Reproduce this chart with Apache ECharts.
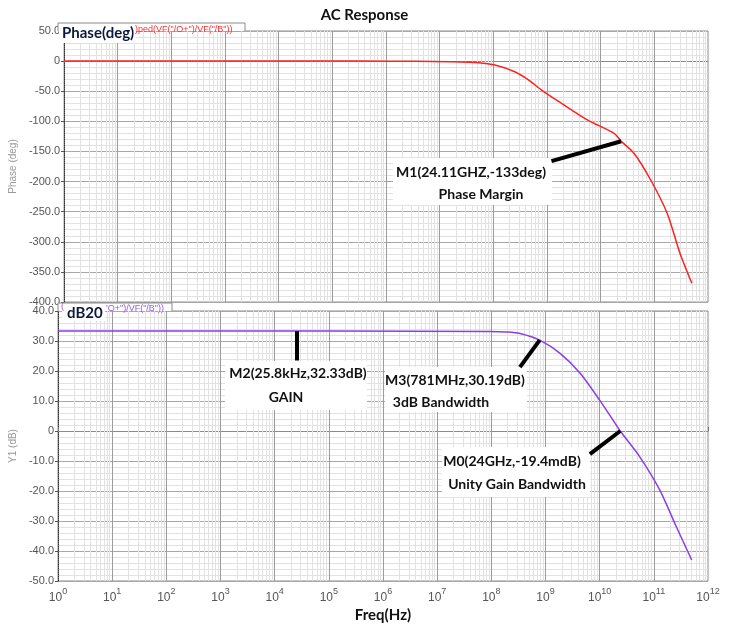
<!DOCTYPE html>
<html>
<head>
<meta charset="utf-8">
<script src="https://cdn.jsdelivr.net/npm/echarts@6/dist/echarts.min.js"></script>
<style>
html,body{margin:0;padding:0;background:#fff;}
#chart{width:729px;height:628px;}
</style>
</head>
<body>
<div id="chart"></div>
<script>
// ---- data ----
var phaseFreq  = [1, 3.7e5, 3.5e6, 1.6e7, 5.4e7, 1.07e8, 2.5e8, 4.5e8, 7.9e8, 1.86e9, 5.75e9, 1.78e10, 2.41e10, 4.17e10, 8.5e10, 1.74e11, 3.0e11, 5.0e11];
var phaseDeg   = [0, 0, -0.3, -1, -2.6, -6.5, -17.6, -31, -48, -70, -98, -120, -133, -153, -197, -253, -319, -369];
var gainFreq   = [1, 1e5, 9.3e7, 2e8, 3.4e8, 7.81e8, 1.86e9, 4.4e9, 1e10, 2.4e10, 5.5e10, 1.29e11, 2.6e11, 5.0e11];
var gainDb     = [33.3, 33.3, 33.2, 33.0, 32.5, 30.3, 25.9, 19.2, 10.3, 0, -8.6, -19.7, -31.9, -43];
var xTickValues = [1, 1e1, 1e2, 1e3, 1e4, 1e5, 1e6, 1e7, 1e8, 1e9, 1e10, 1e11, 1e12];
var phaseTicks = [50, 0, -50, -100, -150, -200, -250, -300, -350, -400];
var gainTicks  = [40, 30, 20, 10, 0, -10, -20, -30, -40, -50];
// markers: [freq, value] at curve, [freq, value] at label end
var m1 = [[2.411e10, -133], [1.21e9, -166]];
var m2 = [[2.58e4, 33.3], [2.58e4, 23.5]];
var m3 = [[7.81e8, 30.3], [3.37e8, 21.3]];
var m0 = [[2.4e10, 0], [6.6e9, -7.7]];
var m1Text = ['M1(24.11GHZ,-133deg)', 'Phase Margin'];
var m2Text = ['M2(25.8kHz,32.33dB)', 'GAIN'];
var m3Text = ['M3(781MHz,30.19dB)', '3dB Bandwidth'];
var m0Text = ['M0(24GHz,-19.4mdB)', 'Unity Gain Bandwidth'];

function pairs(xs, ys){ var r=[]; for(var i=0;i<xs.length;i++) r.push([xs[i], ys[i]]); return r; }

// vertical grid positions: minor (2..9 x 10^n) and major (decades)
var minorX = [];
for (var d = 0; d < 12; d++) for (var k = 2; k <= 9; k++) minorX.push({xAxis: k * Math.pow(10, d)});
var majorX = xTickValues.slice(1, xTickValues.length - 1).map(function(v){ return {xAxis: v}; });

var chart = echarts.init(document.getElementById('chart'), null, {renderer:'canvas'});

var LBL = {color:'#555', fontSize:11, fontFamily:'Liberation Sans'};
function yFmt(v){ return v === 0 ? '0' : v.toFixed(1); }
function xFmt(v){ var n = Math.round(Math.log(v)/Math.LN10); return '{b|10}{s|' + n + '}'; }

function xAxisCfg(idx, showLabel){
  return {
    type:'log', logBase:10, gridIndex:idx, min:1, max:1e12,
    axisLine:{show:true, lineStyle:{color:'#8a8a8a', width:1}},
    axisTick:{show:showLabel, inside:true, length:4, customValues:xTickValues, lineStyle:{color:'#777'}},
    splitLine:{show:false},
    axisLabel:{show:showLabel, formatter:xFmt, margin:6, customValues:xTickValues,
      rich:{ b:{fontSize:12, color:'#555', fontFamily:'Liberation Sans', lineHeight:17, verticalAlign:'bottom'},
             s:{fontSize:9, color:'#555', fontFamily:'Liberation Sans', lineHeight:10, verticalAlign:'top'} } }
  };
}
function yAxisCfg(idx, min, max, interval, name){
  return {
    type:'value', gridIndex:idx, min:min, max:max, interval:interval,
    name:name, nameLocation:'middle', nameGap:36,
    nameTextStyle:{color:'#999', fontSize:10, fontFamily:'Liberation Sans'},
    axisLine:{show:true, lineStyle:{color:'#333', type:'dotted', width:1}},
    axisTick:{show:true, length:3, lineStyle:{color:'#555'}},
    axisLabel:Object.assign({formatter:yFmt, margin:4}, LBL),
    splitLine:{show:true, lineStyle:{color:'#a8a8a8', width:1}},
    minorTick:{show:false, splitNumber:5},
    minorSplitLine:{show:true, lineStyle:{color:'#e2e2e2', width:1}}
  };
}
function markerLine(m){
  return [{coord:m[0]}, {coord:m[1]}];
}
function labelBox(x, y, w, h){
  return {type:'rect', shape:{x:x, y:y, width:w, height:h}, style:{fill:'#fff'}, z:50};
}
function labelText(txt, cx, cy){
  return {type:'text', x:cx, y:cy, z:51,
    style:{text:txt, fill:'#111', font:'bold 14px Lato', textAlign:'center', textVerticalAlign:'middle'}};
}
function gridSeries(xi, yi){
  return [
    {type:'line', xAxisIndex:xi, yAxisIndex:yi, data:[], silent:true, z:1,
     markLine:{silent:true, symbol:'none', label:{show:false}, animation:false, z:1,
       lineStyle:{color:'#e2e2e2', width:1, type:'solid'}, data:minorX}},
    {type:'line', xAxisIndex:xi, yAxisIndex:yi, data:[], silent:true, z:2,
     markLine:{silent:true, symbol:'none', label:{show:false}, animation:false, z:2,
       lineStyle:{color:'#9c9c9c', width:1, type:'solid'}, data:majorX}}
  ];
}

var option = {
  animation:false,
  backgroundColor:'#fff',
  title:{text:'AC Response', left:'center', top:3,
    textStyle:{fontFamily:'Lato', fontWeight:'bold', fontSize:15, color:'#111'}},
  grid:[
    {left:58, right:21, top:31, height:271, show:true, borderColor:'#8a8a8a', borderWidth:1, backgroundColor:'#fff'},
    {left:58, right:21, top:311, height:270, show:true, borderColor:'#8a8a8a', borderWidth:1, backgroundColor:'#fff'}
  ],
  xAxis:[ xAxisCfg(0, false), Object.assign(xAxisCfg(1, true), {
      name:'Freq(Hz)', nameLocation:'middle', nameGap:27,
      nameTextStyle:{fontFamily:'Lato', fontWeight:'bold', fontSize:15, color:'#111'} }) ],
  yAxis:[ yAxisCfg(0, -400, 50, 50, 'Phase (deg)'), yAxisCfg(1, -50, 40, 10, 'Y1 (dB)') ],
  series: gridSeries(0,0).concat(gridSeries(1,1)).concat([
    {name:'phase', type:'line', xAxisIndex:0, yAxisIndex:0, data:pairs(phaseFreq, phaseDeg),
     showSymbol:false, smooth:0.25, lineStyle:{color:'#ff2020', width:1.5}, z:5,
     markLine:{silent:true, symbol:'none', label:{show:false}, animation:false, z:60,
       lineStyle:{color:'#000', width:4, type:'solid'}, data:[markerLine(m1)]}},
    {name:'gain', type:'line', xAxisIndex:1, yAxisIndex:1, data:pairs(gainFreq, gainDb),
     showSymbol:false, smooth:0.25, lineStyle:{color:'#8a3ee6', width:1.5}, z:5,
     markLine:{silent:true, symbol:'none', label:{show:false}, animation:false, z:60,
       lineStyle:{color:'#000', width:4, type:'solid'}, data:[markerLine(m2), markerLine(m3), markerLine(m0)]}}
  ]),
  graphic:[
    // header tab of top plot
    {type:'rect', shape:{x:58, y:23, width:187, height:8}, style:{fill:'#fff'}, z:40},
    {type:'rect', shape:{x:59, y:31, width:77, height:12}, style:{fill:'#fff'}, z:40},
    {type:'polyline', shape:{points:[[58,31],[58,23],[245,23],[245,31]]}, style:{stroke:'#8a8a8a', lineWidth:1, fill:null}, z:41},
    {type:'text', x:62, y:33, z:42, style:{text:'Phase(deg)', fill:'#0b1a3c', font:'bold 15px Lato', textVerticalAlign:'middle'}},
    {type:'text', x:135, y:30, z:42, style:{text:')ped(VF("/O+")/VF("/B"))', fill:'#ff3030', font:'9px Liberation Sans', textVerticalAlign:'middle'}},
    // header tab of bottom plot
    {type:'rect', shape:{x:58, y:303, width:114, height:8}, style:{fill:'#fff'}, z:40},
    {type:'rect', shape:{x:62, y:311, width:43, height:10}, style:{fill:'#fff'}, z:40},
    {type:'polyline', shape:{points:[[58,311],[58,303],[172,303],[172,311]]}, style:{stroke:'#8a8a8a', lineWidth:1, fill:null}, z:41},
    {type:'text', x:61, y:307, z:42, style:{text:'(', fill:'#9a5ae6', font:'9px Liberation Sans', textVerticalAlign:'middle'}},
    {type:'text', x:67, y:313, z:42, style:{text:'dB20', fill:'#0b1a3c', font:'bold 15px Lato', textVerticalAlign:'middle'}},
    {type:'text', x:106, y:309, z:42, style:{text:'\'O+")/VF("/B"))', fill:'#9a5ae6', font:'9px Liberation Sans', textVerticalAlign:'middle'}},
    // marker labels
    labelBox(393, 158, 159, 47), labelText(m1Text[0], 471, 172), labelText(m1Text[1], 481, 194),
    labelBox(225, 361, 142, 49), labelText(m2Text[0], 298, 373), labelText(m2Text[1], 286, 397),
    labelBox(385, 367, 142, 45), labelText(m3Text[0], 455, 380), labelText(m3Text[1], 441, 402),
    labelBox(442, 447, 148, 50), labelText(m0Text[0], 512, 461), labelText(m0Text[1], 517, 484)
  ]
};
chart.setOption(option);
</script>
</body>
</html>
